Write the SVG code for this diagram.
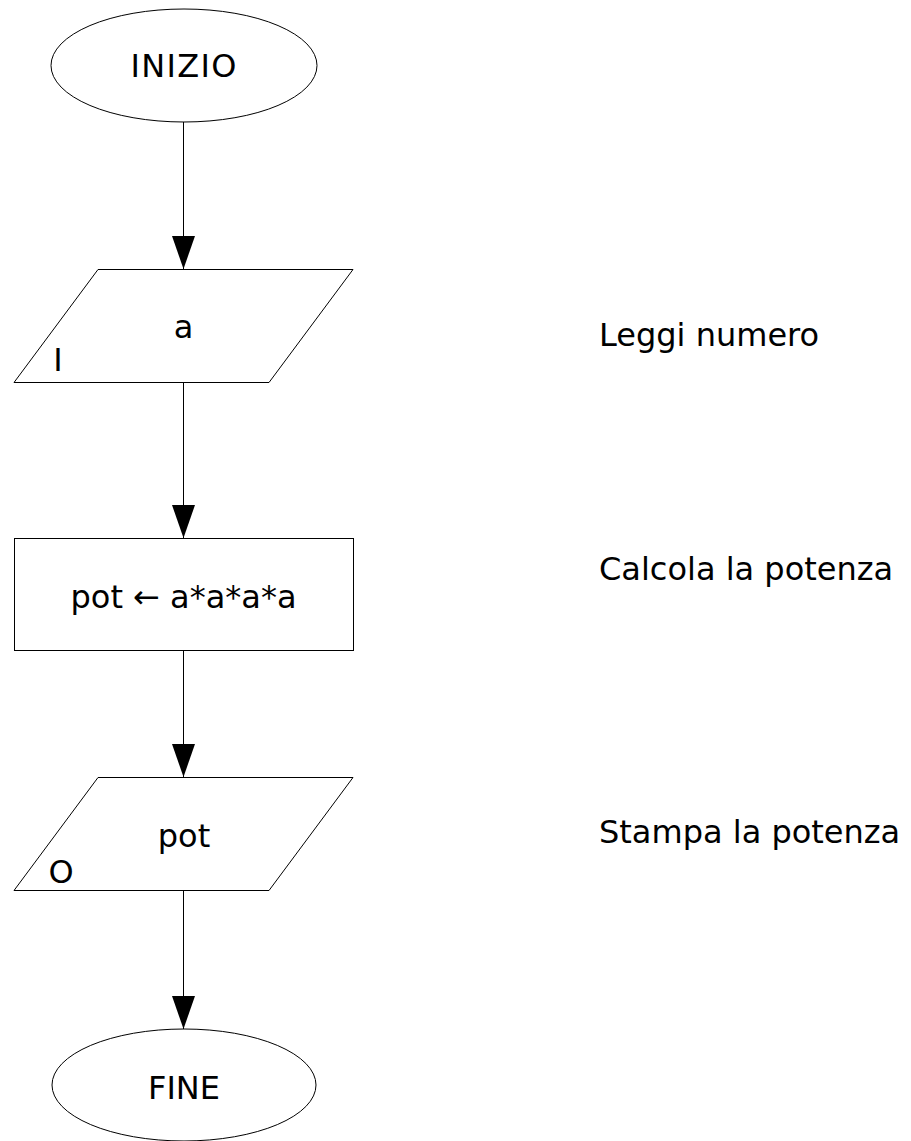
<svg xmlns="http://www.w3.org/2000/svg" width="911" height="1141" viewBox="0 0 911 1141">
  <style>
    .shape { fill: #ffffff; stroke: #000000; stroke-width: 1; }
    .t { font-family: "DejaVu Sans", Verdana, sans-serif; font-size: 32px; fill: #000000; }
    .c { text-anchor: middle; }
    .conn { stroke: #000000; stroke-width: 1; fill: none; marker-end: url(#arrow); }
  </style>
  <defs>
    <marker id="arrow" markerUnits="userSpaceOnUse" markerWidth="33" markerHeight="23" viewBox="0 0 33 23" refX="33" refY="11.5" orient="auto">
      <path d="M0,0 L33,11.5 L0,23 Z" fill="#000000"/>
    </marker>
  </defs>
  <rect x="0" y="0" width="911" height="1141" fill="#ffffff"/>

  <g id="connectors">
    <line class="conn" x1="183.5" y1="122" x2="183.5" y2="269"/>
    <line class="conn" x1="183.5" y1="382" x2="183.5" y2="538"/>
    <line class="conn" x1="183.5" y1="650" x2="183.5" y2="777"/>
    <line class="conn" x1="183.5" y1="890" x2="183.5" y2="1029"/>
  </g>

  <g id="inizio">
    <ellipse class="shape" cx="184" cy="65.5" rx="133" ry="56.5"/>
    <text class="t c" x="183.5" y="77" textLength="106" lengthAdjust="spacing">INIZIO</text>
  </g>

  <g id="input">
    <polygon class="shape" points="98,269.5 353,269.5 269,382.5 14,382.5"/>
    <text class="t c" x="183.5" y="338">a</text>
    <text class="t c" x="58" y="371">I</text>
  </g>

  <g id="calcolo">
    <rect class="shape" x="14.5" y="538.5" width="339" height="112"/>
    <text class="t c" x="183.5" y="608">pot ← a*a*a*a</text>
  </g>

  <g id="output">
    <polygon class="shape" points="98,777.5 353,777.5 269,890.5 14,890.5"/>
    <text class="t c" x="184" y="847">pot</text>
    <text class="t c" x="61" y="883">O</text>
  </g>

  <g id="fine">
    <ellipse class="shape" cx="184" cy="1085" rx="132" ry="56"/>
    <text class="t c" x="184" y="1099">FINE</text>
  </g>

  <g id="comments">
    <text class="t" x="599" y="346">Leggi numero</text>
    <text class="t" x="599" y="580">Calcola la potenza</text>
    <text class="t" x="599" y="843">Stampa la potenza</text>
  </g>
</svg>
